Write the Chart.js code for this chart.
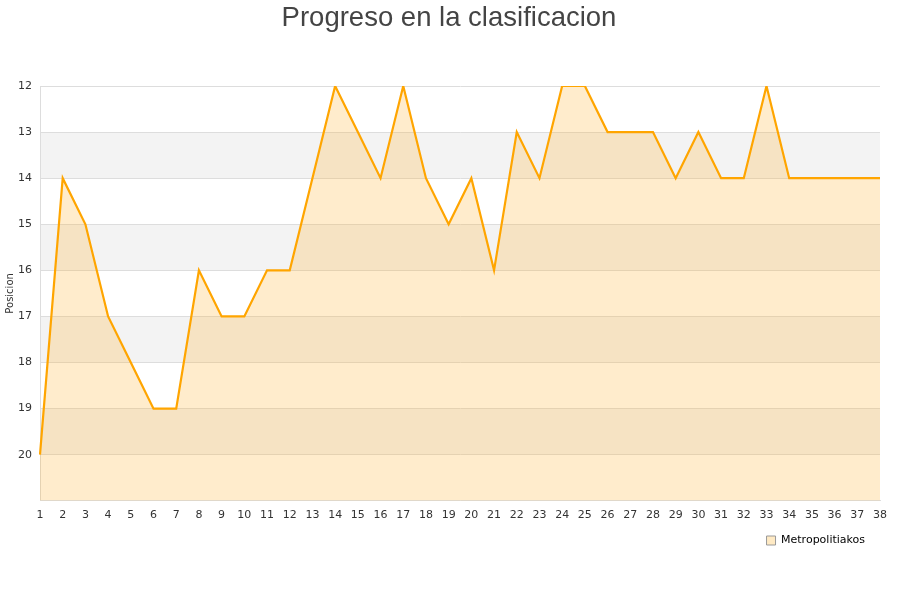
<!DOCTYPE html>
<html>
<head>
<meta charset="utf-8">
<script src="https://cdn.jsdelivr.net/npm/chart.js@4"></script>
<style>
html,body{margin:0;padding:0;background:#fff;}
#wrap{width:900px;height:600px;position:relative;}
</style>
</head>
<body>
<div id="wrap"><canvas id="c" width="900" height="600"></canvas></div>
<script>
const chartTitle = "Progreso en la clasificacion";
const yTitle = "Posicion";
const seriesName = "Metropolitiakos";
const jornadas = [1,2,3,4,5,6,7,8,9,10,11,12,13,14,15,16,17,18,19,20,21,22,23,24,25,26,27,28,29,30,31,32,33,34,35,36,37,38];
const posiciones = [20,14,15,17,18,19,19,16,17,17,16,16,14,12,13,14,12,14,15,14,16,13,14,12,12,13,13,13,14,13,14,14,12,14,14,14,14,14];
const yMin = 12;
const yMax = 21;

const bandPlugin = {
  id: 'bands',
  beforeDraw(chart) {
    const {ctx, chartArea, scales} = chart;
    const y = scales.y;
    ctx.save();
    for (let v = yMin; v < yMax; v++) {
      if ((v - yMin) % 2 === 1) {
        const t = y.getPixelForValue(v);
        const b = y.getPixelForValue(v + 1);
        ctx.fillStyle = '#f3f3f3';
        ctx.fillRect(chartArea.left, t, chartArea.right - chartArea.left, b - t);
      }
    }
    ctx.restore();
  }
};

const boxShift = {
  id: 'boxShift',
  afterLayout(chart) {
    const l = chart.legend;
    if (l) {
      l.left -= 5; l.right -= 5;
      l.top -= 5; l.bottom -= 5;
    }
    const t = chart.titleBlock;
    if (t) {
      t.left += 7; t.right += 7;
      t.top += 2; t.bottom += 2;
    }
  }
};

new Chart(document.getElementById('c'), {
  type: 'line',
  data: {
    labels: jornadas.map(String),
    datasets: [{
      label: seriesName,
      data: posiciones,
      borderColor: '#FFA500',
      borderWidth: 2.2,
      backgroundColor: 'rgba(255,180,50,0.25)',
      fill: {value: yMax},
      pointRadius: 0,
      tension: 0
    }]
  },
  plugins: [bandPlugin, boxShift],
  options: {
    responsive: false,
    animation: false,
    layout: {padding: {left: 4, right: 20, top: 0, bottom: 39}},
    plugins: {
      title: {
        display: true,
        text: chartTitle,
        color: '#444',
        font: {family: '"Liberation Sans", Arial, sans-serif', size: 27.5, weight: 'normal'},
        padding: {top: 0, bottom: 53}
      },
      legend: {
        position: 'bottom',
        align: 'end',
        labels: {
          color: '#000',
          boxWidth: 9,
          boxHeight: 9,
          padding: 10,
          font: {family: '"DejaVu Sans", sans-serif', size: 11},
          generateLabels(chart) {
            return [{
              text: seriesName,
              fillStyle: 'rgba(255,232,190,0.9)',
              strokeStyle: '#999',
              lineWidth: 1,
              fontColor: '#000',
              datasetIndex: 0
            }];
          }
        }
      },
      tooltip: {enabled: false}
    },
    scales: {
      x: {
        type: 'category',
        offset: false,
        grid: {display: false, drawTicks: false},
        border: {display: true, color: '#ddd'},
        ticks: {color: '#333', font: {family: '"DejaVu Sans", sans-serif', size: 11}, padding: 8, maxRotation: 0, autoSkip: false}
      },
      y: {
        reverse: true,
        min: yMin,
        max: yMax,
        afterFit(s) { s.width = 36; },
        title: {display: true, text: yTitle, color: '#333', font: {family: '"DejaVu Sans", sans-serif', size: 10}, padding: 0},
        grid: {color: '#ddd', drawTicks: false},
        border: {display: true, color: '#ddd'},
        ticks: {
          stepSize: 1,
          color: '#333',
          padding: 8,
          font: {family: '"DejaVu Sans", sans-serif', size: 11},
          callback: (v) => (v >= yMax ? '' : v)
        }
      }
    }
  },
});
</script>
</body>
</html>
